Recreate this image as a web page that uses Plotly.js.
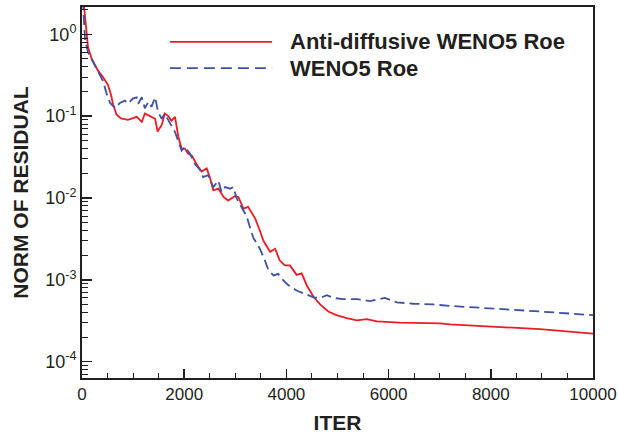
<!DOCTYPE html>
<html>
<head>
<meta charset="utf-8">
<script src="https://cdn.plot.ly/plotly-3.0.1.min.js"></script>
<style>html,body{margin:0;padding:0;background:#fff;}#chart{width:618px;height:436px;}</style>
</head>
<body>
<div id="chart"></div>
<script>
// Anti-diffusive WENO5 Roe (red, solid)
const iterAD = [0, 40, 80, 117, 190, 313, 411, 509, 570, 607, 675, 763, 900, 1000, 1070, 1170, 1230, 1330, 1430, 1480, 1560, 1620, 1690, 1750, 1820, 1885, 1950, 2015, 2075, 2150, 2240, 2340, 2440, 2500, 2570, 2670, 2770, 2860, 2990, 3060, 3160, 3250, 3390, 3480, 3550, 3680, 3780, 3870, 3970, 4070, 4200, 4300, 4400, 4530, 4660, 4820, 4980, 5180, 5380, 5570, 5770, 6220, 7010, 7200, 7990, 8960, 10000];
const resAD = [4.0, 2.2, 1.0, 0.70, 0.50, 0.36, 0.30, 0.24, 0.18, 0.14, 0.105, 0.094, 0.090, 0.094, 0.098, 0.085, 0.108, 0.100, 0.093, 0.065, 0.078, 0.108, 0.100, 0.088, 0.098, 0.056, 0.040, 0.040, 0.035, 0.033, 0.026, 0.021, 0.023, 0.018, 0.0124, 0.013, 0.0103, 0.0093, 0.0105, 0.0103, 0.0074, 0.0078, 0.0056, 0.0040, 0.0030, 0.0022, 0.0024, 0.00172, 0.00150, 0.00150, 0.00115, 0.00120, 0.00085, 0.00062, 0.00050, 0.00041, 0.00037, 0.00034, 0.00032, 0.00033, 0.00031, 0.000300, 0.000294, 0.000285, 0.00027, 0.00025, 0.00022];

// WENO5 Roe (blue, dashed)
const iterW = [0, 30, 60, 120, 300, 410, 480, 550, 650, 740, 840, 900, 1000, 1070, 1100, 1170, 1230, 1300, 1360, 1430, 1490, 1560, 1620, 1690, 1750, 1820, 1880, 1950, 2015, 2110, 2210, 2310, 2370, 2470, 2570, 2670, 2730, 2800, 2900, 2960, 3030, 3120, 3220, 3350, 3480, 3580, 3650, 3750, 3840, 3910, 4040, 4200, 4360, 4530, 4660, 4790, 4920, 5110, 5380, 5640, 5930, 6160, 6480, 6870, 7200, 7990, 8960, 10000];
const resW = [4.0, 1.95, 0.84, 0.60, 0.36, 0.27, 0.19, 0.145, 0.125, 0.145, 0.155, 0.142, 0.165, 0.17, 0.142, 0.17, 0.125, 0.15, 0.13, 0.17, 0.112, 0.093, 0.107, 0.089, 0.074, 0.064, 0.050, 0.038, 0.042, 0.035, 0.026, 0.022, 0.018, 0.019, 0.0136, 0.0163, 0.0118, 0.0136, 0.0130, 0.0136, 0.0098, 0.0078, 0.0060, 0.0033, 0.0024, 0.00172, 0.00130, 0.00113, 0.00118, 0.00103, 0.00086, 0.00074, 0.00068, 0.00061, 0.00060, 0.00065, 0.00060, 0.00058, 0.00058, 0.00055, 0.00060, 0.00053, 0.00051, 0.00050, 0.00048, 0.00045, 0.00041, 0.00037];

const seriesNames = ['Anti-diffusive WENO5 Roe', 'WENO5 Roe'];
const yTickVals = [1, 0.1, 0.01, 0.001, 0.0001];
const yTickText = ['10<sup>0</sup>', '10<sup>-1</sup>', '10<sup>-2</sup>', '10<sup>-3</sup>', '10<sup>-4</sup>'];
const xTickVals = [0, 2000, 4000, 6000, 8000, 10000];
const xTickText = ['0', '2000', '4000', '6000', '8000', '10000'];

const RED = '#ed1c24';
const BLUE = '#3f51a3';
const INK = '#231f20';
const FONT = 'Liberation Sans, Arial, Helvetica, sans-serif';

const traces = [
  {x: iterAD, y: resAD, name: seriesNames[0], type: 'scatter', mode: 'lines',
   line: {color: RED, width: 1.8}},
  {x: iterW, y: resW, name: seriesNames[1], type: 'scatter', mode: 'lines',
   line: {color: BLUE, width: 1.8, dash: '10px,5px'}}
];

const layout = {
  width: 618, height: 436,
  margin: {l: 82, r: 25, t: 7, b: 58},
  paper_bgcolor: '#fff', plot_bgcolor: '#fff',
  showlegend: false,
  font: {family: FONT, color: INK, size: 17},
  xaxis: {
    range: [0, 10000], tickmode: 'array', tickvals: xTickVals, ticktext: xTickText,
    ticks: 'inside', ticklen: 9, tickwidth: 1.5, tickcolor: INK,
    minor: {ticks: 'inside', ticklen: 5, tickwidth: 1, tickcolor: INK, dtick: 500, showgrid: false},
    showline: true, mirror: true, linecolor: INK, linewidth: 2,
    showgrid: false, zeroline: false,
    tickfont: {size: 17, color: INK},
    title: {text: '<b>ITER</b>', font: {size: 21, color: INK}, standoff: 12}
  },
  yaxis: {
    type: 'log', range: [-4.2, 0.334], tickmode: 'array', tickvals: yTickVals, ticktext: yTickText,
    ticks: 'inside', ticklen: 10, tickwidth: 1.5, tickcolor: INK, ticklabelstandoff: 0,
    minor: {ticks: 'inside', ticklen: 6, tickwidth: 1, tickcolor: INK, dtick: 'D1', showgrid: false},
    showline: true, mirror: true, linecolor: INK, linewidth: 2,
    showgrid: false, zeroline: false,
    tickfont: {size: 18, color: INK},
    title: {text: '<b>NORM OF RESIDUAL</b>', font: {size: 21, color: INK}, standoff: 11}
  },
  shapes: [
    {type: 'line', xref: 'paper', yref: 'paper', x0: 0.172, x1: 0.372, y0: 0.906, y1: 0.906,
     line: {color: RED, width: 1.8}},
    {type: 'line', xref: 'paper', yref: 'paper', x0: 0.172, x1: 0.372, y0: 0.835, y1: 0.835,
     line: {color: BLUE, width: 1.8, dash: '11px,6px'}}
  ],
  annotations: [
    {xref: 'paper', yref: 'paper', x: 0.403, y: 0.906, xanchor: 'left', yanchor: 'middle',
     text: '<b>' + seriesNames[0] + '</b>', showarrow: false, font: {size: 22, color: INK}},
    {xref: 'paper', yref: 'paper', x: 0.403, y: 0.835, xanchor: 'left', yanchor: 'middle',
     text: '<b>' + seriesNames[1] + '</b>', showarrow: false, font: {size: 22, color: INK}}
  ]
};

Plotly.newPlot('chart', traces, layout, {displayModeBar: false, staticPlot: true});
</script>
</body>
</html>
